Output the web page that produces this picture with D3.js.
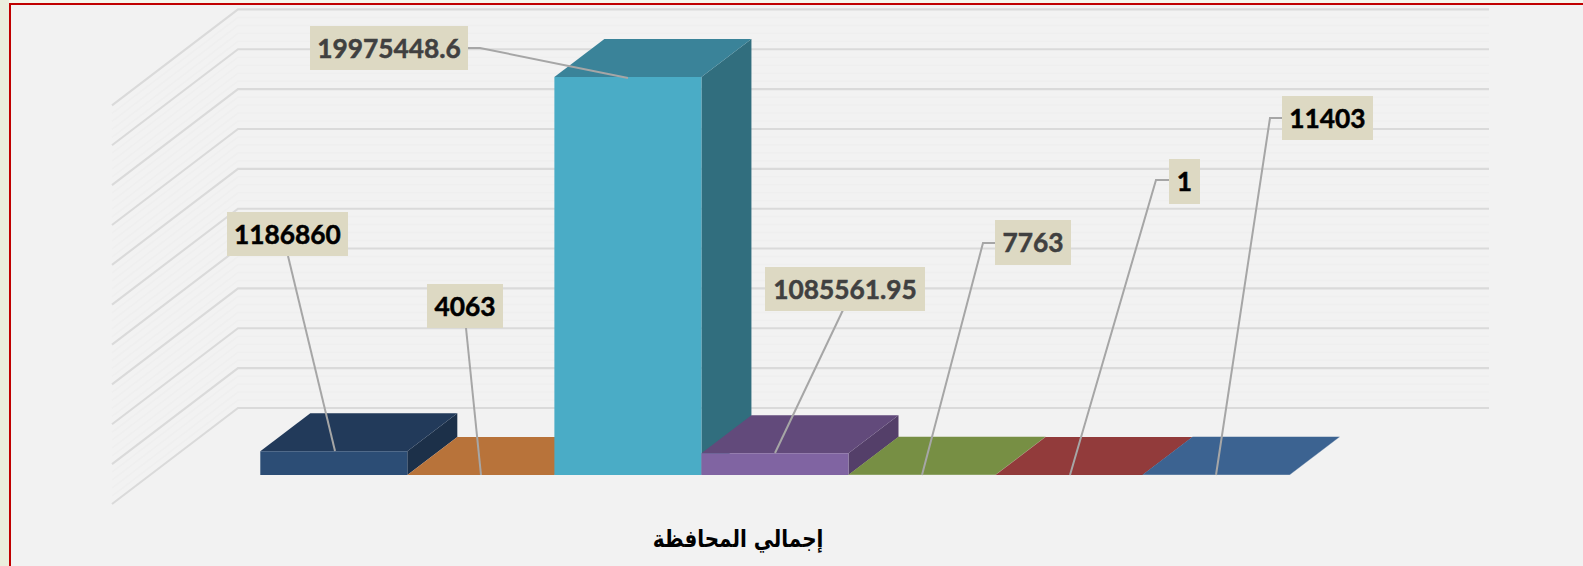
<!DOCTYPE html>
<html lang="ar">
<head>
<meta charset="utf-8">
<script src="https://cdnjs.cloudflare.com/ajax/libs/d3/7.8.5/d3.min.js"></script>
<style>
html,body{margin:0;padding:0;background:#f2f2f2;overflow:hidden}
svg{display:block}
</style>
</head>
<body>
<svg id="chart" width="1583" height="566"></svg>
<script>
const categories = ["A","B","C","D","E","F","G"];
const values = [1186860, 4063, 19975448.6, 1085561.95, 7763, 1, 11403];
const labelTexts = ["1186860","4063","19975448.6","1085561.95","7763","1","11403"];
const labelColors = ["#000000","#000000","#404040","#404040","#404040","#000000","#000000"];
const frontColors = ["#2c4d75","#b8733a","#4aacc6","#8064a2","#778f44","#923b3b","#3c6391"];
const topColors   = ["#223a5a","#b8733a","#3a8399","#624a7b","#778f44","#923b3b","#3c6391"];
const sideColors  = ["#1c3049","#b8733a","#316e7e","#543f69","#778f44","#923b3b","#3c6391"];
const yTicks = [0,2e6,4e6,6e6,8e6,10e6,12e6,14e6,16e6,18e6,20e6];
const titleText = "إجمالي المحافظة";

// label box layout: [x, y, width, height] and leader path
const labelBoxes = [[227,212,121,44],[427,284,76,44],[310,26,158,44],[765,267,160,44],[995,220,76,45],[1169,159,31,45],[1282,96,91,44]];
const leaders = [
  [[288,256],[335,451]],
  [[466,328],[481,475]],
  [[468,48],[480,48],[628,78]],
  [[843,310],[775,453]],
  [[995,243],[983,243],[922,475]],
  [[1169,180],[1156,180],[1070,475]],
  [[1282,118],[1270,118],[1216,475]]
];

const svg = d3.select("#chart");
const W = 1583, H = 566;
svg.append("rect").attr("width",W).attr("height",H).attr("fill","#f2f2f2");
// outer strip and red frame
svg.append("rect").attr("x",0).attr("y",0).attr("width",W).attr("height",3).attr("fill","#f5f6ec");
svg.append("rect").attr("x",0).attr("y",0).attr("width",9).attr("height",H).attr("fill","#ebeedd");
svg.append("path").attr("d","M10,566V4H1583").attr("fill","none").attr("stroke","#c00000").attr("stroke-width",2);

const x = d3.scaleBand().domain(categories).range([260.3,1289.6]).padding(0);
const h = d3.scaleLinear().domain([0,20e6]).range([0,398.6]);
const baseY = 475, depthX = 50, depthY = 38;
const wallX0 = 238, wallX1 = 1489, wallBase = 408, sideDX = -126, sideDY = 96;
const gy = v => wallBase - h(v);

// grid
const minor = d3.range(0,20e6,4e5).filter(v => v % 2e6 !== 0);
const grid = svg.append("g").attr("fill","none");
grid.selectAll(".mn").data(minor).join("path").attr("class","mn")
  .attr("d",v => `M${wallX0+sideDX},${gy(v)+sideDY}L${wallX0},${gy(v)}L${wallX1},${gy(v)}`)
  .attr("stroke","#efefef").attr("stroke-width",1.6);
grid.selectAll(".mj").data(yTicks).join("path").attr("class","mj")
  .attr("d",v => `M${wallX0+sideDX},${gy(v)+sideDY}L${wallX0},${gy(v)}L${wallX1},${gy(v)}`)
  .attr("stroke","#dadada").attr("stroke-width",2.1);

// bars
const poly = pts => "M" + pts.map(p => p.join(",")).join("L") + "Z";
const bars = svg.append("g").selectAll("g").data(categories).join("g");
const w = x.bandwidth();
const x0 = c => x(c), barTop = i => baseY - h(values[i]);
bars.append("path").attr("fill",(c,i)=>sideColors[i])
  .attr("d",(c,i)=>poly([[x0(c)+w,baseY],[x0(c)+w+depthX,baseY-depthY],[x0(c)+w+depthX,barTop(i)-depthY],[x0(c)+w,barTop(i)]]));
bars.append("path").attr("fill",(c,i)=>topColors[i])
  .attr("d",(c,i)=>poly([[x0(c),barTop(i)],[x0(c)+depthX,barTop(i)-depthY],[x0(c)+w+depthX,barTop(i)-depthY],[x0(c)+w,barTop(i)]]));
bars.append("path").attr("fill",(c,i)=>frontColors[i])
  .attr("d",(c,i)=>poly([[x0(c),baseY],[x0(c),barTop(i)],[x0(c)+w,barTop(i)],[x0(c)+w,baseY]]));

// leaders
const line = d3.line();
svg.append("g").selectAll("path").data(leaders).join("path")
  .attr("d",line).attr("fill","none").attr("stroke","#a6a6a6").attr("stroke-width",2);

// labels
const lab = svg.append("g").selectAll("g").data(labelTexts).join("g");
lab.append("rect").attr("fill","#ddd9c3")
  .attr("x",(d,i)=>labelBoxes[i][0]).attr("y",(d,i)=>labelBoxes[i][1])
  .attr("width",(d,i)=>labelBoxes[i][2]).attr("height",(d,i)=>labelBoxes[i][3]);
lab.append("text").text(d=>d)
  .attr("x",(d,i)=>labelBoxes[i][0]+labelBoxes[i][2]/2)
  .attr("y",(d,i)=>labelBoxes[i][1]+labelBoxes[i][3]/2+9.5)
  .attr("text-anchor","middle").attr("fill",(d,i)=>labelColors[i])
  .attr("stroke",(d,i)=>labelColors[i]).attr("stroke-width",0.5)
  .style("font-family","Lato, 'Open Sans', sans-serif").style("font-weight",700).style("font-size","26.3px");

// title
svg.append("text").text(titleText)
  .attr("text-anchor","middle").attr("direction","rtl")
  .attr("transform","translate(738,547) scale(0.95,1.15)")
  .attr("fill","#000")
  .style("font-family","'DejaVu Sans', sans-serif").style("font-weight",700).style("font-size","21px");
</script>
</body>
</html>
